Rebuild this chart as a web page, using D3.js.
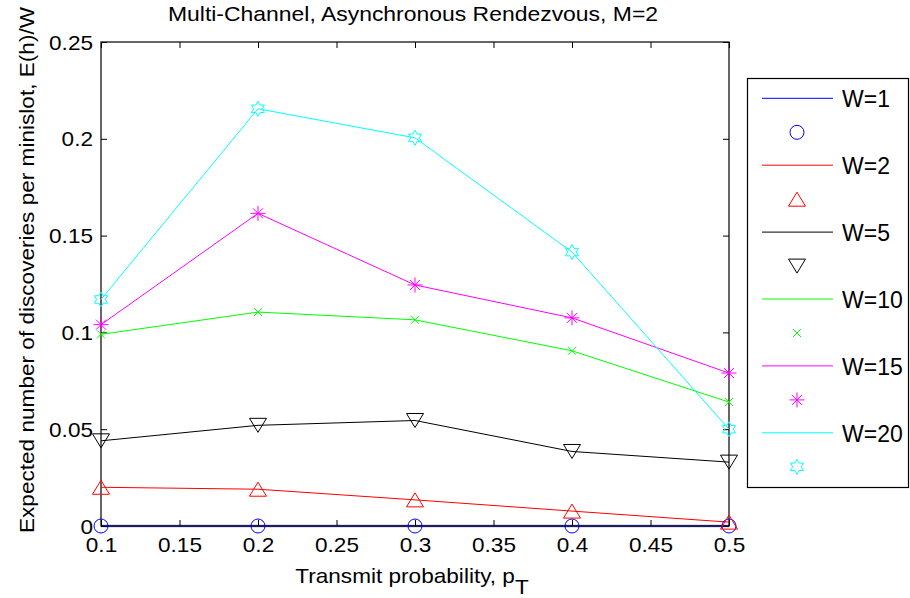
<!DOCTYPE html>
<html>
<head>
<meta charset="utf-8">
<script src="https://cdn.jsdelivr.net/npm/d3@7"></script>
<style>
  body { margin: 0; background: #fff; }
  svg { display: block; }
  text { font-family: "Liberation Sans", Arial, Helvetica, sans-serif; fill: #000; }
</style>
</head>
<body>
<svg id="chart" width="910" height="598"></svg>
<script>
// ---- data ----
const pT = [0.1, 0.2, 0.3, 0.4, 0.5];
const seriesNames = ["W=1", "W=2", "W=5", "W=10", "W=15", "W=20"];
const w1  = [0, 0, 0, 0, 0];
const w2  = [0.020, 0.019, 0.0135, 0.0077, 0.002];
const w5  = [0.044, 0.052, 0.0545, 0.0385, 0.033];
const w10 = [0.099, 0.1105, 0.1065, 0.0905, 0.064];
const w15 = [0.104, 0.1615, 0.1245, 0.1075, 0.079];
const w20 = [0.117, 0.2155, 0.2005, 0.1415, 0.050];
const xTickValues = [0.1, 0.15, 0.2, 0.25, 0.3, 0.35, 0.4, 0.45, 0.5];
const xTickLabels = ["0.1", "0.15", "0.2", "0.25", "0.3", "0.35", "0.4", "0.45", "0.5"];
const yTickValues = [0, 0.05, 0.1, 0.15, 0.2, 0.25];
const yTickLabels = ["0", "0.05", "0.1", "0.15", "0.2", "0.25"];
const titleText = "Multi-Channel, Asynchronous Rendezvous, M=2";
const xLabelText = "Transmit probability, p";
const xLabelSub = "T";
const yLabelText = "Expected number of discoveries per minislot, E(h)/W";

// ---- styling ----
const seriesValues = [w1, w2, w5, w10, w15, w20];
const seriesColors = ["#0000ff", "#ff0000", "#000000", "#00ff00", "#ff00ff", "#00ffff"];
const seriesMarkers = ["circle", "triUp", "triDown", "cross", "asterisk", "hexagram"];
const STRETCH = 1.13;   // glyphs drawn a little wider than Liberation Sans
const FONT = 20;

const svg = d3.select("#chart");
const plot = { left: 101, right: 729, top: 42, bottom: 526 };

const x = d3.scaleLinear().domain([0.1, 0.5]).range([plot.left, plot.right]);
const y = d3.scaleLinear().domain([0, 0.25]).range([plot.bottom, plot.top]);

// marker outlines centred on (0,0)
function markerPath(kind) {
  const p = d3.path();
  if (kind === "circle") {
    p.moveTo(7, 0); p.arc(0, 0, 7, 0, Math.PI * 2);
  } else if (kind === "triUp") {
    p.moveTo(0, -7); p.lineTo(8.5, 7); p.lineTo(-8.5, 7); p.closePath();
  } else if (kind === "triDown") {
    p.moveTo(0, 7); p.lineTo(8.5, -7); p.lineTo(-8.5, -7); p.closePath();
  } else if (kind === "cross") {
    p.moveTo(-4, -4); p.lineTo(4, 4); p.moveTo(-4, 4); p.lineTo(4, -4);
  } else if (kind === "asterisk") {
    p.moveTo(-7.5, 0); p.lineTo(7.5, 0); p.moveTo(0, -7.5); p.lineTo(0, 7.5);
    p.moveTo(-5, -5); p.lineTo(5, 5); p.moveTo(-5, 5); p.lineTo(5, -5);
  } else if (kind === "hexagram") {
    const ro = 7.5, ri = 4.3;
    for (let k = 0; k < 12; k++) {
      const a = -Math.PI / 2 + k * Math.PI / 6;
      const r = k % 2 === 0 ? ro : ri;
      const px = r * Math.cos(a), py = r * Math.sin(a);
      if (k === 0) p.moveTo(px, py); else p.lineTo(px, py);
    }
    p.closePath();
  }
  return p.toString();
}

// ---- axes box and ticks ----
svg.append("rect")
  .attr("x", plot.left).attr("y", plot.top)
  .attr("width", plot.right - plot.left).attr("height", plot.bottom - plot.top)
  .attr("fill", "none").attr("stroke", "#000").attr("stroke-width", 1.2);

const bottomAxis = svg.append("g")
  .attr("transform", `translate(0,${plot.bottom})`)
  .call(d3.axisBottom(x).tickValues(xTickValues)
    .tickFormat((d, i) => xTickLabels[i]).tickSizeInner(-6).tickSizeOuter(0));
bottomAxis.selectAll("text")
  .attr("y", 26).attr("dy", null)
  .attr("font-size", FONT)
  .attr("transform", `scale(${STRETCH},1)`);

const leftAxis = svg.append("g")
  .attr("transform", `translate(${plot.left},0)`)
  .call(d3.axisLeft(y).tickValues(yTickValues)
    .tickFormat((d, i) => yTickLabels[i]).tickSizeInner(-6).tickSizeOuter(0));
leftAxis.selectAll("text")
  .attr("x", -8 / STRETCH).attr("dy", null).attr("y", 7)
  .attr("font-size", FONT)
  .attr("transform", `scale(${STRETCH},1)`);

svg.append("g")
  .attr("transform", `translate(0,${plot.top})`)
  .call(d3.axisTop(x).tickValues(xTickValues).tickFormat("").tickSizeInner(-6).tickSizeOuter(0));
svg.append("g")
  .attr("transform", `translate(${plot.right},0)`)
  .call(d3.axisRight(y).tickValues(yTickValues).tickFormat("").tickSizeInner(-6).tickSizeOuter(0));

svg.selectAll(".domain").remove();
svg.selectAll(".tick line").attr("stroke", "#000").attr("stroke-width", 1);

// ---- series lines ----
const line = d3.line().x((d, i) => x(pT[i])).y(d => y(d));
seriesValues.forEach((vals, s) => {
  svg.append("path")
    .attr("d", line(vals))
    .attr("fill", "none")
    .attr("stroke", seriesColors[s])
    .attr("stroke-width", 1);
});

// blue W=1 line sits on the x axis and reads as dark navy
svg.append("line")
  .attr("x1", plot.left).attr("x2", plot.right)
  .attr("y1", y(0)).attr("y2", y(0))
  .attr("stroke", "#000").attr("stroke-opacity", 0.45).attr("stroke-width", 2.6);

// ---- markers ----
seriesValues.forEach((vals, s) => {
  svg.append("g").selectAll("path")
    .data(vals)
    .join("path")
    .attr("transform", (d, i) => `translate(${x(pT[i])},${y(d)})`)
    .attr("d", markerPath(seriesMarkers[s]))
    .attr("fill", "none")
    .attr("stroke", seriesColors[s])
    .attr("stroke-width", 1);
});

// ---- titles ----
svg.append("text")
  .attr("transform", `translate(413,21) scale(${STRETCH * 0.99},1)`)
  .attr("text-anchor", "middle")
  .attr("font-size", 20.5)
  .text(titleText);

const xl = svg.append("text")
  .attr("transform", `translate(412,583) scale(${STRETCH},1)`)
  .attr("text-anchor", "middle")
  .attr("font-size", FONT);
xl.append("tspan").text(xLabelText);
xl.append("tspan").attr("dy", 11).text(xLabelSub);

svg.append("text")
  .attr("transform", `translate(34,270) rotate(-90) scale(${STRETCH},1)`)
  .attr("text-anchor", "middle")
  .attr("font-size", FONT)
  .text(yLabelText);

// ---- legend ----
const legend = svg.append("g");
legend.append("rect")
  .attr("x", 747.5).attr("y", 78.5).attr("width", 161).attr("height", 409)
  .attr("fill", "#fff").attr("stroke", "#000").attr("stroke-width", 1.2);

const entryStep = 66.9;
seriesNames.forEach((name, s) => {
  const ly = 98.3 + s * entryStep;
  legend.append("line")
    .attr("x1", 762).attr("x2", 833).attr("y1", ly).attr("y2", ly)
    .attr("stroke", seriesColors[s]).attr("stroke-width", 1);
  legend.append("text")
    .attr("x", 842).attr("y", ly + 9)
    .attr("font-size", 23)
    .text(name);
  legend.append("path")
    .attr("transform", `translate(797,${ly + 34})`)
    .attr("d", markerPath(seriesMarkers[s]))
    .attr("fill", "none")
    .attr("stroke", seriesColors[s])
    .attr("stroke-width", 1);
});
</script>
</body>
</html>
